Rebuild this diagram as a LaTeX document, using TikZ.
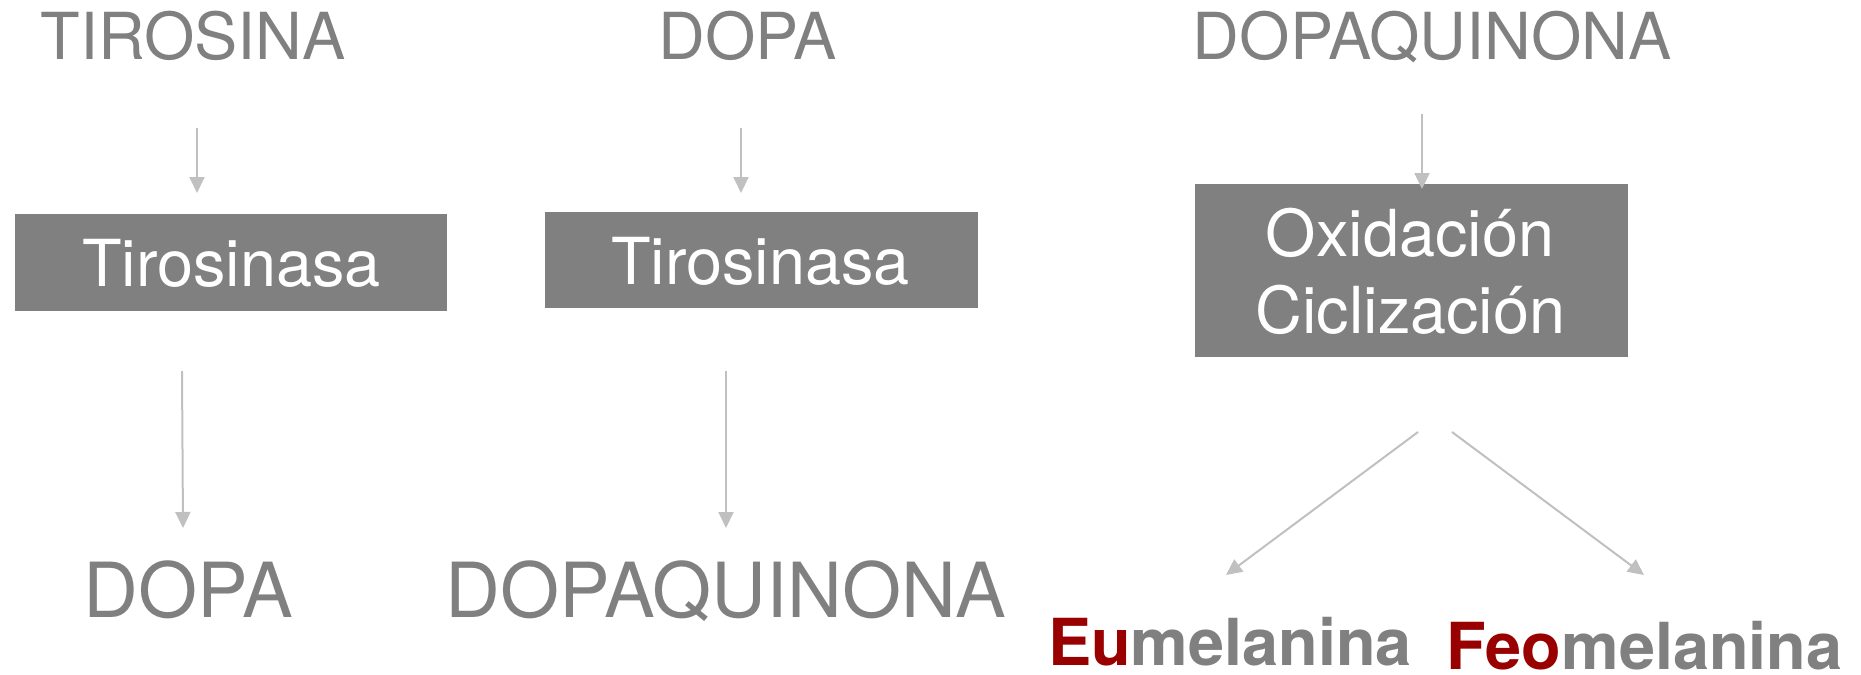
\documentclass[tikz,border=0pt]{standalone}
\usepackage{fontspec}
\setmainfont{TeX Gyre Heros}
\usetikzlibrary{arrows.meta}
\definecolor{txtgray}{HTML}{808080}
\definecolor{boxgray}{HTML}{808080}
\definecolor{arrgray}{HTML}{C0C0C0}
\definecolor{darkred}{HTML}{990000}
\tikzset{
  toplbl/.style={anchor=base, inner sep=0pt, text=txtgray, font=\fontsize{32.4pt}{39pt}\selectfont},
  botlbl/.style={anchor=base, inner sep=0pt, text=txtgray, font=\fontsize{38pt}{46pt}\selectfont},
  boxlbl/.style={anchor=base, inner sep=0pt, text=white, font=\fontsize{32.4pt}{39pt}\selectfont},
  mellbl/.style={anchor=base, inner sep=0pt, text=txtgray, font=\fontsize{32.4pt}{39pt}\selectfont\bfseries},
  enzbox/.style={rectangle, fill=boxgray, draw=none, inner sep=0pt},
  arr/.style={draw=arrgray, line width=1pt, -{Triangle[length=8pt, width=7.5pt]}, arrgray}
}
\begin{document}
\begin{tikzpicture}[x=0.5pt, y=-0.5pt]
\useasboundingbox (0,0) rectangle (1861,674);

% column 1
\node[toplbl] (tir) at (193,60) {TIROSINA};
\node[enzbox, minimum width=216pt, minimum height=48.5pt] (b1) at (231,262.5) {};
\node[boxlbl] (t1) at (231.5,286) {Tirosinasa};
\node[botlbl] (dopa1) at (188,617) {DOPA};

% column 2
\node[toplbl] (dopa2) at (747.5,60) {DOPA};
\node[enzbox, minimum width=216.5pt, minimum height=48pt] (b2) at (761.5,260) {};
\node[boxlbl] (t2) at (760.5,284) {Tirosinasa};
\node[botlbl] (dq1) at (726,617) {DOPAQUINONA};

% column 3
\node[toplbl] (dq2) at (1432,60) {DOPAQUINONA};
\node[enzbox, minimum width=216.5pt, minimum height=86.5pt] (b3) at (1411.5,270.5) {};
\node[boxlbl] (ox) at (1410,256) {Oxidación};
\node[boxlbl] (ci) at (1410.5,333) {Ciclización};
\node[mellbl] (eu) at (1230,665) {\textcolor{darkred}{Eu}melanina};
\node[mellbl] (feo) at (1644.5,669) {\textcolor{darkred}{Feo}melanina};

% arrow end points
\coordinate (a1s) at (197,128);  \coordinate (a1e) at (197,193);
\coordinate (a2s) at (741,128);  \coordinate (a2e) at (741,193);
\coordinate (a3s) at (1422,114); \coordinate (a3e) at (1422,189);
\coordinate (a4s) at (182,371);  \coordinate (a4e) at (183,528);
\coordinate (a5s) at (726,371);  \coordinate (a5e) at (726,528);
\coordinate (a6s) at (1418,432); \coordinate (a6e) at (1226,575);
\coordinate (a7s) at (1452,432); \coordinate (a7e) at (1644,575);

\draw[arr] (a1s) -- (a1e);
\draw[arr] (a2s) -- (a2e);
\draw[arr] (a3s) -- (a3e);
\draw[arr] (a4s) -- (a4e);
\draw[arr] (a5s) -- (a5e);
\draw[arr] (a6s) -- (a6e);
\draw[arr] (a7s) -- (a7e);
\end{tikzpicture}
\end{document}
